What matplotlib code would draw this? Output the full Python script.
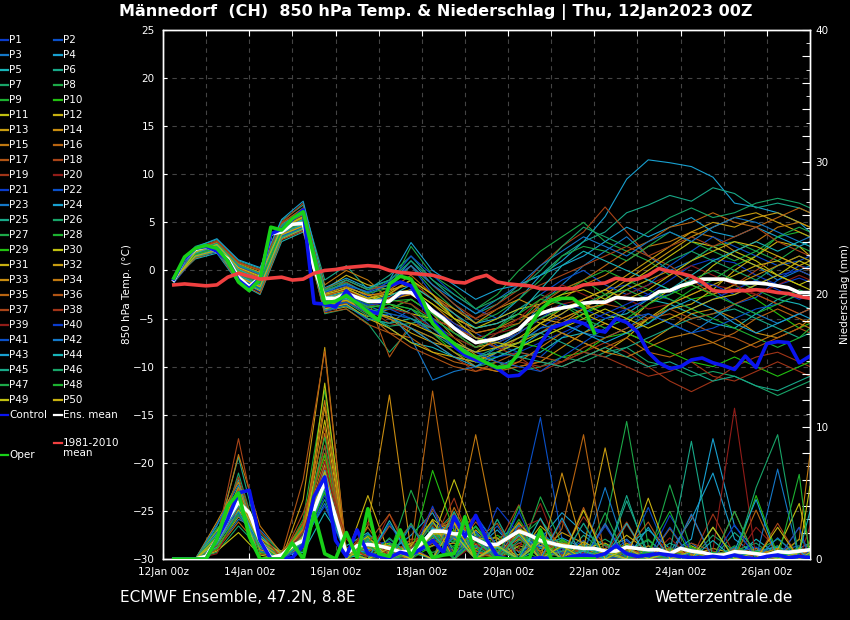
import matplotlib
matplotlib.use('Agg')
import matplotlib.pyplot as plt
from matplotlib.lines import Line2D
from matplotlib.ticker import MultipleLocator, FixedLocator, FuncFormatter

# ---------------- time axes (hours after 12Jan2023 00z) ----------------
hours6 = list(range(6, 361, 6))                 # special lines, 6-hourly
hours12 = list(range(6, 355, 12)) + [360]       # ensemble members, 12-hourly
oper_hours = list(range(6, 241, 6))             # operational run, to +240h

tick_hours = [0, 48, 96, 144, 192, 240, 288, 336]
tick_labels = ['12Jan 00z', '14Jan 00z', '16Jan 00z', '18Jan 00z',
               '20Jan 00z', '22Jan 00z', '24Jan 00z', '26Jan 00z']

# ---------------- 850 hPa temperature (deg C) ----------------
mean_temp = [-1.0, 1.2, 2.2, 2.5, 2.0, 1.2, -0.7, -1.7, -0.7, 3.8, 4.0, 4.8, 4.9, 0.3, -2.9,
             -2.9, -2.4, -2.8, -3.2, -3.2, -3.2, -2.3, -2.3, -3.1, -4.2, -5.0, -6.0, -6.8, -7.5, -7.3,
             -7.1, -6.7, -6.1, -5.0, -4.5, -4.1, -3.9, -3.7, -3.4, -3.3, -3.3, -2.8, -2.9, -3.0, -2.9,
             -2.2, -2.1, -1.6, -1.3, -0.9, -0.9, -0.9, -1.2, -1.3, -1.3, -1.4, -1.6, -1.8, -2.3, -2.3]
control_temp = [-0.9, 1.2, 2.3, 2.5, 2.0, 1.0, -1.0, -1.9, -0.8, 3.8, 4.3, 5.3, 6.3, -3.4, -3.5,
                -3.8, -2.1, -3.5, -4.2, -4.5, -1.6, -1.2, -1.6, -3.5, -5.2, -6.5, -7.9, -8.8, -9.3, -9.6,
                -10.2, -11.0, -10.9, -9.9, -7.6, -6.0, -5.6, -5.2, -5.5, -6.2, -6.4, -5.0, -5.4, -6.4, -8.5,
                -9.6, -10.2, -10.0, -9.3, -9.1, -9.6, -9.9, -10.3, -8.9, -10.1, -7.6, -7.4, -7.5, -9.6, -8.9]
oper_temp = [-0.8, 1.4, 2.3, 2.6, 2.3, 1.0, -1.2, -2.1, -0.9, 4.5, 4.2, 5.4, 6.1, 1.4, -3.4,
             -3.2, -2.6, -3.4, -4.3, -5.2, -1.4, -0.6, -0.9, -2.9, -5.5, -6.7, -7.6, -8.5, -9.0, -9.6,
             -10.1, -10.0, -8.6, -5.8, -4.1, -3.1, -2.9, -2.9, -3.8, -6.5]
clim_temp = [-1.5, -1.4, -1.5, -1.6, -1.5, -0.7, -0.3, -0.6, -0.9, -0.8, -0.7, -1.0, -0.9, -0.3, 0.0,
             0.1, 0.3, 0.4, 0.5, 0.4, 0.0, -0.2, -0.3, -0.4, -0.5, -0.8, -1.2, -1.3, -0.8, -0.5,
             -1.2, -1.4, -1.5, -1.6, -1.9, -1.9, -1.9, -1.9, -1.5, -1.4, -1.3, -0.8, -1.0, -0.9, -0.5,
             0.2, -0.1, -0.3, -0.6, -1.2, -2.1, -2.2, -2.1, -2.1, -2.0, -2.1, -2.3, -2.4, -2.7, -2.9]

T01 = [-1.0, 1.6, 2.3, -0.3, -1.2, 4.0, 5.0, -3.0, -2.2, -3.5, -3.2, -2.0, -4.0, -5.8, -7.0, -8.2, -7.5, -6.0, -4.5, -3.0, -2.0, -1.5, -2.5, -1.0, 0.5, 1.2, 0.8, -0.5, -1.5, -0.8, -1.2]
T02 = [-1.2, 1.9, 2.6, 0.2, -0.8, 4.4, 5.6, -2.0, -1.5, -2.8, -1.0, 0.5, -2.5, -4.5, -6.5, -7.8, -8.5, -9.0, -7.0, -5.5, -6.5, -4.0, -3.0, -2.5, -1.0, -2.0, -3.5, -2.8, -1.0, 0.5, 0.2]
T03 = [-0.8, 1.4, 2.0, -0.8, -1.8, 3.5, 4.6, -4.0, -3.5, -5.0, -5.5, -4.0, -6.0, -8.0, -9.5, -8.0, -6.5, -3.5, -1.5, 0.5, 2.0, 3.5, 1.5, 0.0, 1.0, 2.5, 1.5, 0.5, -1.0, 0.0, 0.5]
T04 = [-1.1, 2.2, 2.9, 0.6, -0.4, 4.8, 6.2, -2.5, -1.0, -2.0, -1.5, 1.0, -1.5, -3.5, -5.5, -5.0, -3.0, -0.5, 1.0, 3.0, 5.6, 9.5, 11.5, 11.2, 10.8, 9.7, 7.0, 6.6, 6.0, 5.0, 4.0]
T05 = [-0.9, 1.2, 1.8, -1.3, -2.5, 3.0, 4.0, -3.5, -3.0, -4.5, -6.0, -7.5, -8.0, -9.0, -9.5, -10.0, -9.0, -8.5, -7.0, -6.5, -5.0, -4.5, -3.0, -3.5, -4.5, -5.5, -6.0, -4.5, -3.0, -3.5, -4.0]
T06 = [-1.3, 2.5, 3.2, 1.0, 0.2, 5.2, 6.8, -1.0, 0.5, -2.0, -0.5, 1.5, -1.0, -3.0, -4.5, -3.5, -1.5, -0.5, 1.5, 3.0, 4.0, 6.0, 6.8, 7.8, 7.2, 8.6, 8.0, 6.5, 7.0, 6.5, 6.0]
T07 = [-1.0, 1.7, 2.1, -0.6, -1.5, 3.8, 4.4, -4.5, -4.0, -5.5, -8.5, -6.0, -7.0, -8.5, -10.0, -9.5, -10.5, -10.0, -9.0, -9.5, -8.5, -8.0, -9.5, -10.0, -11.0, -10.5, -11.0, -12.0, -13.0, -12.0, -11.5]
T08 = [-0.7, 1.5, 2.4, 0.0, -1.0, 4.2, 5.3, -2.5, -2.0, -3.0, -2.0, 2.5, -0.5, -2.0, -4.0, -2.5, 0.0, 2.0, 3.5, 5.0, 3.0, 2.0, 1.0, -0.5, 1.0, 2.5, 3.0, 2.0, 1.0, 2.5, 2.0]
T09 = [-1.0, 1.8, 2.5, -0.2, -1.0, 4.5, 5.5, -3.2, -2.5, -3.8, -3.0, -3.5, -5.5, -7.0, -8.0, -6.5, -5.5, -3.0, -2.0, -1.0, -2.5, -4.0, -5.5, -3.5, -2.0, -1.0, 0.5, 1.5, 3.5, 4.0, 3.5]
T10 = [-1.2, 1.5, 2.2, -0.5, -1.8, 3.6, 4.8, -3.8, -3.0, -4.0, -4.5, -5.0, -6.5, -8.5, -9.5, -9.0, -8.0, -7.0, -6.0, -4.5, -3.5, -2.0, -1.0, -2.0, -3.0, -2.5, -1.5, -3.0, -4.5, -6.0, -5.5]
T11 = [-0.9, 1.6, 2.4, 0.4, -0.6, 4.0, 5.2, -2.8, -1.8, -2.5, -3.5, -4.5, -5.0, -6.0, -7.0, -8.0, -7.5, -5.5, -4.0, -3.5, -4.5, -5.5, -3.5, -2.0, -1.5, 0.5, 2.0, 1.0, -0.5, -1.5, -1.0]
T12 = [-1.1, 2.0, 2.8, 0.8, 0.0, 4.6, 5.8, -2.0, -0.5, -1.5, -2.0, -1.5, -3.0, -5.0, -6.0, -5.5, -4.5, -5.5, -6.5, -7.5, -8.5, -7.0, -5.0, -4.0, -3.5, -2.0, 0.0, 1.5, 3.0, 2.5, 1.5]
T13 = [-1.0, 1.7, 2.5, -0.4, -1.3, 4.1, 4.9, -3.3, -2.8, -4.2, -5.0, -6.5, -7.5, -8.0, -8.5, -7.0, -6.0, -5.0, -5.5, -4.0, -2.5, -1.0, 0.5, 2.0, 3.5, 4.5, 5.5, 6.0, 5.0, 4.0, 3.5]
T14 = [-0.8, 1.3, 2.0, -1.0, -2.0, 3.4, 4.3, -4.2, -3.8, -4.8, -4.0, -3.0, -4.5, -7.0, -8.8, -9.5, -10.0, -9.5, -8.0, -6.5, -5.5, -6.5, -7.5, -6.0, -4.5, -4.0, -5.0, -6.5, -7.0, -6.0, -5.0]
T15 = [-1.2, 2.1, 3.0, 0.5, -0.2, 4.9, 6.5, -1.5, 0.0, -1.0, -3.0, -2.0, -3.5, -5.5, -6.5, -6.0, -5.0, -4.0, -3.0, -1.5, -0.5, 1.0, 2.5, 3.0, 4.0, 3.5, 2.0, 3.0, 4.5, 5.0, 4.5]
T16 = [-1.0, 1.6, 2.2, -0.7, -1.6, 3.9, 4.7, -3.6, -3.2, -4.5, -6.5, -7.0, -8.5, -9.5, -10.0, -10.5, -10.0, -9.5, -10.0, -9.0, -8.0, -7.0, -8.5, -9.0, -8.0, -7.5, -6.5, -5.0, -4.0, -5.0, -5.5]
T17 = [-0.9, 1.8, 2.7, 0.3, -0.5, 4.4, 5.9, -2.7, -2.0, -3.0, -9.0, -5.5, -6.0, -7.5, -9.0, -8.5, -7.0, -6.5, -5.0, -4.0, -3.5, -4.0, -5.0, -4.5, -5.5, -6.5, -7.0, -8.0, -7.0, -6.0, -6.5]
T18 = [-1.1, 2.3, 3.1, 0.9, 0.0, 5.0, 7.0, -2.2, -1.2, -2.5, -2.5, -1.0, -3.0, -4.0, -5.0, -3.5, -2.0, 0.5, 2.5, 4.0, 6.6, 4.0, 1.5, 0.5, -1.0, -2.5, -1.5, 0.0, 1.5, 0.5, 0.0]
T19 = [-1.0, 1.5, 2.1, -0.5, -1.4, 3.7, 4.5, -3.9, -3.4, -4.0, -5.5, -6.0, -7.5, -9.0, -10.5, -10.0, -9.5, -10.0, -9.5, -8.5, -7.5, -8.5, -10.0, -11.5, -12.6, -11.5, -10.0, -9.0, -8.5, -9.5, -10.0]
T20 = [-0.8, 1.9, 2.6, 0.1, -0.9, 4.3, 5.4, -2.6, -2.4, -3.4, -2.8, -2.5, -4.0, -5.5, -7.0, -6.5, -6.0, -4.5, -3.5, -3.0, -2.0, -3.0, -4.0, -3.5, -2.5, -1.5, -2.0, -2.5, -3.5, -4.5, -4.0]
T21 = [-1.3, 1.4, 1.9, -1.1, -2.2, 3.3, 4.2, -4.3, -3.6, -5.2, -4.5, -5.0, -6.0, -7.5, -8.5, -9.0, -8.5, -7.5, -6.5, -5.5, -4.5, -3.5, -2.5, -3.0, -4.0, -3.0, -2.0, -1.0, -2.0, -3.0, -2.5]
T22 = [-1.0, 2.0, 2.7, 0.4, -0.6, 4.5, 5.7, -2.3, -1.6, -2.2, -1.2, 1.5, -0.5, -2.5, -4.0, -5.0, -4.0, -2.5, -1.0, 0.0, -1.5, -2.5, -1.5, 0.5, 2.0, 3.5, 2.5, 1.5, 0.5, 1.0, 1.5]
T23 = [-0.9, 1.7, 2.4, -0.2, -1.1, 4.1, 5.1, -3.1, -2.6, -3.7, -4.5, -7.0, -11.4, -10.5, -10.0, -8.5, -7.5, -6.0, -5.5, -6.5, -7.0, -6.0, -4.5, -5.5, -6.5, -5.0, -3.5, -4.5, -5.5, -4.5, -4.0]
T24 = [-1.2, 2.4, 3.3, 1.1, 0.3, 5.3, 7.2, -1.8, -0.8, -1.8, -1.0, 2.9, 0.0, -1.5, -3.0, -2.0, -1.5, -0.5, 0.5, 1.5, 3.0, 4.5, 3.5, 4.5, 5.5, 4.0, 3.5, 4.5, 3.5, 2.5, 3.0]
T25 = [-1.0, 1.6, 2.3, -0.6, -1.7, 3.6, 4.8, -3.4, -3.0, -4.3, -3.8, -4.5, -6.5, -8.0, -9.0, -8.0, -7.0, -6.5, -7.5, -8.5, -9.0, -8.0, -7.0, -6.0, -5.0, -4.5, -4.0, -5.0, -6.0, -7.0, -6.5]
T26 = [-0.8, 1.5, 2.1, -0.9, -1.9, 3.5, 4.5, -3.7, -3.3, -4.7, -5.8, -5.5, -5.0, -6.5, -7.5, -6.0, -4.0, -2.5, -3.5, -4.5, -3.0, -1.5, -0.5, 1.0, 2.0, 1.0, 0.0, -1.0, 0.5, 1.5, 1.0]
T27 = [-1.1, 2.1, 2.8, 0.5, -0.3, 4.7, 6.0, -2.1, -1.3, -2.4, -1.8, 0.5, -2.0, -4.0, -5.5, -4.5, -3.0, -1.0, 1.5, 2.5, 2.0, 1.0, 2.5, 4.0, 3.0, 2.0, 1.0, 2.0, 3.5, 4.5, 4.0]
T28 = [-1.0, 1.8, 2.5, 0.0, -1.0, 4.2, 5.2, -3.0, -2.5, -3.6, -4.0, -3.0, -4.5, -6.0, -7.5, -7.0, -6.0, -4.0, -2.5, -1.0, 0.0, -1.0, -2.0, -3.0, -4.0, -5.0, -6.0, -7.0, -8.0, -7.0, -6.0]
T29 = [-1.2, 1.6, 2.3, -0.4, -1.4, 4.0, 5.0, -3.2, -2.7, -3.9, -3.5, -4.0, -5.5, -7.5, -9.0, -8.5, -7.5, -8.0, -9.0, -8.5, -7.0, -6.5, -7.5, -8.5, -9.5, -10.0, -9.0, -10.0, -11.0, -10.0, -9.5]
T30 = [-0.9, 1.9, 2.7, 0.2, -0.7, 4.4, 5.5, -2.6, -2.1, -3.1, -2.5, -2.0, -3.5, -5.0, -6.0, -5.0, -4.0, -3.5, -2.5, -2.0, -3.0, -1.5, 0.0, 1.5, 3.0, 2.5, 1.5, 0.5, -0.5, 1.0, 0.5]
T31 = [-1.1, 1.4, 2.0, -1.0, -2.1, 3.3, 4.3, -4.0, -3.5, -5.0, -6.0, -7.5, -8.5, -9.0, -9.5, -8.5, -7.5, -6.5, -5.5, -4.5, -5.5, -6.5, -5.0, -3.5, -2.5, -1.5, -0.5, 0.5, 1.0, 0.0, -0.5]
T32 = [-1.0, 1.7, 2.4, -0.1, -1.1, 4.1, 5.0, -2.9, -2.3, -3.3, -3.0, -2.5, -4.0, -6.5, -8.0, -7.5, -6.5, -5.0, -4.0, -3.0, -2.0, -0.5, 1.0, 2.5, 4.0, 5.0, 4.5, 5.5, 6.0, 5.0, 4.5]
T33 = [-0.8, 2.0, 2.9, 0.7, -0.2, 4.6, 6.0, -2.4, -1.7, -2.6, -2.2, -1.0, -2.5, -4.0, -5.5, -4.0, -3.0, -4.0, -5.0, -4.0, -3.5, -2.0, -1.0, 0.0, -1.5, -2.5, -1.5, -0.5, 0.5, 1.5, 1.0]
T34 = [-1.2, 1.5, 2.2, -0.7, -1.6, 3.8, 4.6, -3.5, -3.1, -4.1, -5.0, -6.0, -7.0, -8.5, -10.0, -10.5, -9.5, -8.0, -6.5, -7.5, -8.5, -9.0, -8.0, -7.0, -6.5, -7.5, -8.5, -7.5, -6.5, -5.5, -6.0]
T35 = [-1.0, 1.8, 2.6, 0.2, -0.8, 4.3, 5.4, -2.7, -1.9, -2.9, -2.0, -0.5, -2.5, -4.5, -6.5, -6.0, -5.5, -3.5, -2.0, -1.0, 0.5, 2.0, 3.0, 4.5, 5.0, 6.0, 5.0, 4.5, 5.5, 6.5, 6.0]
T36 = [-0.9, 1.3, 2.0, -1.2, -2.4, 3.2, 4.1, -4.4, -4.0, -5.6, -6.5, -8.0, -9.0, -10.0, -10.5, -9.5, -8.5, -9.0, -9.5, -8.0, -7.0, -6.0, -5.0, -4.0, -5.0, -4.5, -3.5, -2.5, -3.5, -4.5, -4.0]
T37 = [-1.1, 2.2, 3.0, 0.8, 0.1, 4.9, 6.4, -1.9, -1.0, -2.0, -1.5, 0.5, -1.5, -3.5, -5.0, -4.0, -2.5, -1.5, -0.5, 0.5, 1.5, 2.5, 1.5, 2.5, 3.5, 2.5, 3.5, 4.5, 3.0, 2.0, 1.5]
T38 = [-1.0, 1.6, 2.3, -0.4, -1.3, 4.0, 4.9, -3.3, -2.9, -3.8, -3.0, -3.5, -5.0, -6.0, -7.0, -8.0, -9.0, -10.5, -9.5, -8.5, -9.0, -10.0, -11.0, -10.5, -9.5, -11.0, -11.5, -10.5, -9.5, -10.5, -11.0]
T39 = [-0.8, 1.9, 2.7, 0.3, -0.6, 4.5, 5.7, -2.5, -2.0, -3.2, -4.0, -4.5, -6.0, -7.0, -8.0, -6.5, -5.0, -3.0, -1.5, -2.5, -3.5, -2.5, -1.5, -0.5, 0.5, -0.5, -1.5, -2.5, -1.5, -0.5, -1.0]
T40 = [-1.2, 1.7, 2.4, -0.3, -1.2, 4.1, 5.1, -3.1, -2.6, -3.6, -3.3, -2.0, -4.0, -5.5, -7.0, -7.5, -6.5, -5.0, -3.5, -4.0, -5.0, -4.0, -3.0, -2.0, -1.0, -1.5, -2.5, -1.5, -0.5, 0.0, -0.5]
T41 = [-1.0, 1.5, 2.1, -0.8, -1.9, 3.6, 4.5, -3.8, -3.3, -4.4, -4.0, -5.0, -6.5, -7.5, -8.5, -9.5, -10.0, -10.5, -9.0, -7.5, -6.0, -5.0, -4.5, -5.5, -6.5, -6.0, -5.0, -4.0, -3.5, -2.5, -3.0]
T42 = [-0.9, 2.1, 2.8, 0.5, -0.4, 4.6, 5.9, -2.2, -1.4, -2.3, -1.5, 0.5, -1.5, -3.0, -4.5, -3.0, -1.5, 0.5, 2.0, 3.5, 2.5, 1.5, 3.0, 4.0, 3.0, 4.5, 5.5, 5.0, 4.0, 3.0, 3.5]
T43 = [-1.1, 1.6, 2.2, -0.5, -1.5, 3.9, 4.8, -3.4, -2.9, -4.0, -4.8, -6.0, -7.5, -9.0, -10.0, -9.0, -8.0, -6.5, -5.5, -6.5, -7.5, -6.5, -5.5, -4.0, -3.0, -4.0, -5.5, -6.5, -5.5, -4.5, -5.0]
T44 = [-1.0, 1.8, 2.6, 0.1, -0.9, 4.3, 5.3, -2.8, -2.2, -3.2, -2.7, -1.5, -3.0, -4.5, -6.0, -5.5, -4.5, -2.0, 0.5, 2.0, 1.0, 0.0, -1.0, -2.0, -0.5, 1.0, 2.0, 3.0, 2.0, 3.0, 2.5]
T45 = [-0.8, 1.4, 2.0, -0.9, -2.0, 3.4, 4.4, -4.1, -3.7, -5.0, -5.5, -5.0, -6.0, -7.5, -9.0, -8.5, -9.0, -9.5, -10.0, -9.0, -8.0, -9.0, -10.0, -9.5, -10.5, -11.5, -11.0, -12.0, -12.5, -11.5, -11.0]
T46 = [-1.2, 2.0, 2.8, 0.6, -0.3, 4.7, 6.1, -2.0, -1.0, -2.0, -1.0, 1.0, -1.0, -2.5, -4.0, -3.0, -2.0, 0.0, 2.5, 4.5, 3.5, 2.5, 4.0, 5.5, 6.5, 5.5, 6.0, 7.0, 7.5, 7.0, 6.5]
T47 = [-1.0, 1.7, 2.3, -0.4, -1.3, 4.0, 4.9, -3.3, -2.7, -3.8, -3.5, -4.0, -5.0, -6.5, -8.0, -7.0, -6.0, -5.0, -4.0, -3.5, -2.5, -2.0, -3.0, -2.0, -1.0, 0.0, -1.0, -2.0, -3.0, -2.0, -2.5]
T48 = [-0.9, 1.6, 2.4, -0.2, -1.1, 4.2, 5.1, -3.0, -2.4, -3.4, -3.2, -3.0, -4.5, -6.0, -7.5, -6.0, -4.5, -3.0, -3.5, -5.0, -6.0, -5.0, -3.5, -2.5, -1.5, -2.5, -3.5, -4.5, -3.5, -2.5, -3.0]
T49 = [-1.1, 1.9, 2.7, 0.3, -0.6, 4.5, 5.6, -2.5, -1.9, -2.9, -2.4, -1.0, -2.5, -5.0, -7.0, -7.5, -8.0, -7.0, -6.0, -5.0, -4.0, -5.0, -6.0, -5.0, -4.0, -3.0, -2.5, -1.5, -0.5, -1.5, -2.0]
T50 = [-1.0, 1.5, 2.1, -0.7, -1.7, 3.7, 4.6, -3.6, -3.1, -4.3, -4.8, -5.5, -6.5, -7.5, -8.5, -8.0, -7.0, -5.5, -4.5, -3.0, -2.0, -3.0, -2.0, -0.5, 1.0, 2.0, 3.0, 2.5, 1.5, 0.5, 1.0]

# ---------------- precipitation (mm / 6h) ----------------
mean_prec = [0, 0, 0, 0.2, 1.5, 3.0, 4.3, 3.5, 1.4, 0.1, 0.3, 1.0, 1.4, 3.7, 5.8,
             3.2, 0.4, 1.0, 1.1, 1.0, 0.8, 0.55, 0.55, 1.2, 2.1, 2.1, 1.9, 1.9, 1.5, 1.1,
             1.1, 1.6, 2.1, 1.8, 1.4, 1.2, 1.0, 0.9, 0.8, 0.8, 0.6, 0.6, 0.9, 0.8, 0.7,
             0.7, 0.4, 0.8, 0.6, 0.5, 0.3, 0.3, 0.55, 0.5, 0.4, 0.3, 0.55, 0.5, 0.6, 0.7]
control_prec = [0, 0, 0, 0, 1.5, 3.0, 5.0, 5.2, 1.4, 0, 0, 0.1, 1.0, 4.7, 6.2,
                1.4, 0.2, 2.2, 0.4, 0.2, 0.1, 0.5, 0.3, 0.8, 1.4, 0.5, 3.2, 1.7, 3.3, 1.5,
                0.2, 0, 0, 0, 0.1, 0, 0, 0.2, 0.3, 0.2, 0.4, 1.0, 0.4, 0.2, 0.3,
                0.4, 0.3, 0.2, 0.1, 0.1, 0.2, 0.1, 0.3, 0.1, 0.0, 0.2, 0.3, 0.1, 0.2, 0.1]
oper_prec = [0, 0, 0, 0, 1.5, 4.0, 5.0, 1.7, 0, 0, 0, 1.2, 0, 3.5, 0.4,
             0, 2.0, 0.1, 3.8, 0.4, 0.2, 2.2, 0.2, 1.7, 0.1, 0.3, 0.4, 3.2, 0, 0,
             0.1, 0, 0, 0.1, 2.2, 0, 0, 0, 0, 0]

R01 = [0, 0, 1.2, 3.5, 1.0, 0.2, 1.5, 4.0, 0.3, 0.8, 0.5, 0.2, 1.5, 2.5, 1.0, 0.5, 1.8, 0.8, 0.4, 0.2, 0.0, 0.6, 0.3, 0.0, 0.5, 0.2, 0.0, 0.4, 0.8, 0.2, 0.3]
R02 = [0, 0, 2.0, 4.5, 0.8, 0.0, 0.8, 5.5, 0.5, 1.2, 0.3, 0.6, 2.8, 1.5, 2.0, 0.8, 3.5, 10.7, 1.5, 0.5, 0.2, 0.0, 0.8, 0.2, 0.0, 0.3, 0.6, 0.0, 0.2, 0.5, 0.4]
R03 = [0, 0, 0.8, 3.0, 2.2, 0.5, 1.0, 6.5, 0.2, 0.5, 1.5, 0.3, 1.0, 3.0, 1.8, 0.2, 1.2, 2.0, 0.5, 0.0, 0.8, 1.5, 0.0, 0.6, 1.2, 0.0, 0.3, 0.0, 0.6, 1.0, 0.2]
R04 = [0, 0, 1.5, 5.0, 1.5, 0.0, 2.0, 7.0, 0.0, 1.0, 0.5, 1.8, 3.5, 0.5, 0.8, 2.2, 0.5, 1.5, 3.5, 2.0, 1.0, 0.0, 0.2, 0.5, 3.0, 6.5, 1.5, 0.3, 0.0, 0.8, 1.2]
R05 = [0, 0, 2.5, 6.0, 0.5, 0.3, 0.5, 3.5, 1.0, 2.0, 0.0, 0.5, 1.2, 2.0, 3.2, 1.0, 0.0, 0.8, 1.2, 0.4, 0.0, 1.0, 2.2, 0.8, 0.0, 0.4, 0.0, 1.5, 0.3, 0.0, 0.6]
R06 = [0, 0, 1.8, 7.7, 1.2, 0.0, 2.5, 8.5, 0.6, 0.2, 1.0, 0.0, 2.0, 1.2, 0.5, 1.5, 2.5, 0.3, 0.0, 1.8, 0.5, 0.2, 0.0, 1.2, 0.4, 0.0, 2.0, 0.5, 1.0, 0.0, 0.5]
R07 = [0, 0, 0.5, 2.5, 0.8, 0.2, 1.2, 4.5, 0.3, 1.5, 0.8, 0.2, 1.8, 3.5, 0.8, 0.0, 2.0, 1.0, 0.0, 0.6, 1.5, 0.5, 0.0, 0.3, 0.0, 1.8, 0.6, 0.0, 0.2, 0.4, 0.0]
R08 = [0, 0, 1.0, 3.8, 2.0, 0.5, 0.6, 6.0, 0.0, 0.6, 2.5, 1.0, 0.5, 1.0, 2.5, 0.6, 1.5, 3.0, 0.8, 0.2, 2.5, 10.4, 1.0, 0.0, 0.8, 0.2, 0.0, 0.6, 1.5, 0.3, 0.0]
R09 = [0, 0, 2.2, 4.0, 0.6, 0.0, 3.0, 12.8, 0.8, 0.4, 0.0, 0.8, 2.5, 0.8, 1.2, 0.4, 3.0, 0.5, 0.2, 1.0, 0.0, 0.6, 1.5, 0.0, 0.2, 0.0, 0.8, 0.3, 0.0, 1.5, 0.8]
R10 = [0, 0, 1.3, 5.5, 1.8, 0.3, 1.8, 5.0, 0.2, 1.8, 0.6, 0.0, 1.0, 2.2, 0.6, 1.8, 0.8, 0.0, 1.5, 0.5, 0.3, 0.0, 0.5, 0.8, 0.0, 0.5, 0.2, 0.0, 0.9, 0.2, 0.4]
R11 = [0, 0, 0.6, 2.0, 0.3, 0.0, 1.0, 13.3, 0.4, 0.8, 1.2, 0.5, 3.0, 1.8, 0.3, 0.2, 2.2, 1.2, 0.0, 0.8, 1.2, 0.3, 0.0, 0.5, 1.0, 0.2, 0.0, 0.8, 0.0, 0.6, 0.2]
R12 = [0, 0, 1.6, 4.8, 1.0, 0.6, 2.2, 7.5, 0.0, 1.4, 0.3, 1.2, 1.8, 0.4, 2.2, 0.8, 0.3, 2.5, 1.0, 0.0, 0.4, 1.8, 0.6, 0.0, 0.3, 0.8, 0.4, 0.0, 0.5, 0.0, 0.3]
R13 = [0, 0, 0.9, 3.2, 1.6, 0.0, 4.5, 16.0, 0.5, 0.3, 0.8, 0.4, 2.2, 2.8, 1.5, 0.0, 1.0, 0.6, 2.0, 1.2, 0.0, 0.5, 0.2, 0.0, 0.6, 0.0, 0.3, 0.0, 0.4, 0.8, 0.5]
R14 = [0, 0, 2.8, 5.8, 0.4, 0.2, 1.4, 6.8, 0.3, 2.5, 12.4, 0.6, 1.0, 1.2, 0.8, 1.2, 2.0, 0.2, 0.6, 0.4, 0.8, 0.0, 1.0, 0.4, 0.0, 0.3, 0.6, 0.2, 0.0, 0.5, 0.0]
R15 = [0, 0, 1.4, 7.9, 2.5, 0.4, 0.8, 9.5, 0.2, 1.0, 0.4, 0.0, 3.8, 1.5, 0.4, 0.5, 1.5, 1.0, 0.3, 0.6, 0.2, 1.2, 0.4, 0.8, 0.3, 0.0, 0.5, 0.8, 0.2, 1.5, 7.9]
R16 = [0, 0, 0.7, 2.8, 0.9, 0.0, 2.8, 8.0, 0.7, 0.6, 1.0, 0.8, 12.7, 2.0, 1.0, 0.3, 2.8, 0.5, 0.8, 0.0, 0.6, 0.4, 0.0, 0.6, 0.8, 0.4, 0.0, 0.3, 0.6, 0.0, 0.4]
R17 = [0, 0, 2.0, 5.2, 1.4, 0.3, 6.0, 15.7, 0.4, 1.6, 0.2, 1.5, 1.5, 0.6, 2.8, 1.0, 0.6, 1.8, 0.2, 0.8, 0.4, 0.0, 0.7, 0.2, 0.5, 0.2, 0.8, 0.0, 0.3, 0.2, 0.6]
R18 = [0, 0, 1.5, 9.1, 1.2, 0.0, 3.5, 7.8, 0.9, 0.2, 0.6, 0.2, 2.0, 3.2, 0.6, 0.2, 1.2, 0.4, 1.4, 0.2, 0.0, 0.8, 0.3, 0.0, 1.2, 0.6, 0.2, 0.5, 0.0, 0.3, 0.0]
R19 = [0, 0, 1.1, 4.2, 0.7, 0.5, 1.6, 5.8, 0.3, 1.2, 0.0, 0.3, 1.2, 4.6, 0.0, 0.6, 2.4, 0.0, 0.5, 3.2, 1.0, 0.0, 0.0, 0.9, 0.0, 3.4, 0.3, 0.0, 0.4, 0.7, 0.0]
R20 = [0, 0, 0.4, 3.6, 1.5, 0.2, 1.2, 6.2, 0.5, 0.0, 3.4, 0.6, 2.6, 0.0, 1.1, 0.0, 0.8, 4.2, 0.0, 0.5, 0.0, 2.6, 0.0, 0.2, 0.3, 0.0, 0.0, 2.4, 0.7, 0.0, 0.5]
R21 = [0, 0, 1.9, 4.4, 0.8, 0.0, 0.9, 4.8, 0.2, 1.1, 1.3, 0.0, 1.4, 2.4, 0.0, 3.9, 1.9, 0.0, 0.9, 0.0, 0.2, 1.4, 0.0, 3.3, 0.6, 0.0, 0.7, 0.0, 0.5, 0.0, 0.8]
R22 = [0, 0, 1.2, 3.3, 1.3, 0.4, 2.0, 6.8, 0.8, 0.5, 0.0, 0.9, 0.0, 1.7, 0.9, 2.5, 0.0, 2.2, 0.4, 1.4, 0.0, 0.3, 3.9, 0.0, 0.8, 0.0, 0.5, 0.9, 0.0, 0.6, 0.3]
R23 = [0, 0, 2.6, 5.6, 0.6, 0.1, 1.3, 4.2, 0.4, 1.9, 0.7, 0.0, 2.4, 0.0, 2.1, 0.0, 2.6, 1.4, 0.0, 0.3, 5.4, 0.4, 0.2, 0.0, 0.4, 0.0, 0.9, 0.0, 6.8, 0.0, 0.6]
R24 = [0, 0, 0.9, 4.6, 1.8, 0.3, 1.7, 7.2, 0.2, 0.7, 1.1, 0.5, 2.1, 2.6, 1.6, 0.4, 1.7, 0.9, 1.6, 0.8, 0.4, 1.0, 0.6, 0.4, 1.5, 9.1, 2.5, 0.6, 0.9, 0.3, 0.2]
R25 = [0, 0, 1.7, 3.9, 1.1, 0.2, 1.1, 5.3, 0.6, 1.3, 0.5, 0.7, 1.7, 1.9, 0.0, 1.3, 2.2, 0.0, 0.6, 1.1, 0.0, 4.4, 0.4, 0.6, 0.2, 0.0, 0.4, 0.3, 0.0, 0.5, 0.9]
R26 = [0, 0, 1.0, 6.5, 0.9, 0.4, 2.4, 6.4, 0.3, 1.6, 0.0, 0.3, 2.7, 1.4, 1.0, 0.0, 1.4, 1.6, 1.3, 0.0, 0.5, 0.6, 1.4, 0.2, 0.0, 0.4, 0.6, 1.2, 0.0, 0.2, 0.7]
R27 = [0, 0, 2.3, 4.1, 1.7, 0.0, 1.9, 9.2, 0.7, 0.0, 0.4, 5.2, 1.3, 0.0, 1.9, 0.6, 0.0, 4.7, 1.1, 0.0, 1.1, 0.2, 0.0, 5.6, 0.7, 0.0, 1.0, 0.2, 0.0, 0.9, 0.4]
R28 = [0, 0, 1.4, 5.1, 0.5, 0.3, 1.0, 5.1, 0.4, 1.4, 0.8, 0.0, 1.9, 1.3, 2.4, 0.8, 0.0, 1.3, 0.8, 0.0, 0.3, 0.7, 0.0, 0.8, 0.4, 0.0, 0.3, 0.5, 0.2, 0.0, 0.5]
R29 = [0, 0, 0.8, 3.4, 1.4, 0.2, 2.6, 7.9, 0.5, 0.0, 1.2, 0.4, 6.7, 2.1, 0.0, 1.2, 1.6, 0.0, 1.4, 0.6, 0.0, 1.1, 0.3, 0.0, 0.9, 0.2, 0.0, 4.8, 0.3, 0.0, 0.2]
R30 = [0, 0, 2.1, 4.7, 1.0, 0.1, 1.5, 10.5, 0.6, 1.7, 0.0, 0.8, 1.5, 6.0, 1.7, 0.0, 2.3, 1.5, 0.0, 1.3, 0.4, 0.0, 0.7, 0.3, 0.0, 0.5, 0.2, 0.0, 0.7, 4.2, 0.6]
R31 = [0, 0, 1.3, 3.7, 1.6, 0.4, 2.1, 6.6, 0.2, 4.8, 0.3, 1.0, 2.9, 0.0, 1.5, 1.6, 0.0, 1.7, 0.9, 0.0, 0.6, 0.9, 0.0, 0.6, 0.5, 0.0, 0.7, 0.4, 0.0, 0.7, 0.3]
R32 = [0, 0, 1.8, 5.4, 0.7, 0.2, 1.4, 7.1, 0.4, 1.1, 1.0, 0.5, 1.8, 2.7, 1.1, 0.9, 2.7, 1.0, 1.2, 0.8, 8.4, 0.6, 0.3, 0.7, 0.3, 0.4, 0.5, 0.6, 0.4, 0.5, 0.7]
R33 = [0, 0, 1.1, 4.3, 1.3, 0.3, 1.8, 11.5, 0.3, 0.9, 0.0, 0.6, 2.0, 1.6, 0.0, 1.0, 1.8, 0.0, 6.5, 0.6, 0.0, 0.8, 0.6, 0.0, 0.7, 0.2, 0.0, 0.3, 0.8, 0.0, 0.5]
R34 = [0, 0, 1.6, 4.9, 1.0, 0.2, 2.3, 12.0, 0.5, 1.3, 0.6, 0.0, 2.2, 1.7, 9.4, 1.1, 0.0, 1.3, 0.8, 0.0, 0.6, 0.7, 0.0, 0.6, 0.4, 0.0, 0.4, 0.5, 0.0, 0.3, 0.6]
R35 = [0, 0, 1.4, 4.0, 1.2, 0.0, 1.3, 6.0, 0.0, 2.4, 0.0, 0.7, 0.0, 3.9, 0.6, 0.0, 1.9, 0.0, 2.3, 9.4, 0.0, 0.9, 0.0, 2.3, 0.0, 0.4, 0.0, 3.7, 0.0, 0.6, 0.0]
R36 = [0, 0, 1.2, 5.3, 0.0, 0.4, 2.7, 10.0, 0.0, 1.2, 3.4, 0.0, 2.1, 0.0, 1.4, 2.7, 0.0, 1.4, 0.0, 3.9, 0.0, 0.7, 2.8, 0.0, 0.5, 0.0, 3.6, 0.0, 0.3, 0.0, 1.3]
R37 = [0, 0, 1.7, 6.2, 0.9, 0.0, 1.6, 8.6, 0.0, 0.0, 2.5, 0.8, 0.0, 3.5, 0.0, 1.0, 4.1, 0.0, 1.1, 0.0, 2.6, 0.0, 0.4, 0.0, 3.3, 0.0, 0.4, 0.0, 2.7, 0.0, 0.4]
R38 = [0, 0, 1.0, 3.9, 2.1, 0.0, 2.1, 6.9, 1.5, 0.0, 0.7, 2.6, 0.0, 1.8, 3.3, 0.0, 1.7, 0.0, 2.9, 0.0, 0.4, 2.8, 0.0, 0.4, 0.0, 2.4, 0.0, 0.3, 0.0, 2.4, 0.0]
R39 = [0, 0, 1.5, 4.6, 0.0, 0.1, 1.9, 7.4, 0.0, 2.8, 0.0, 0.7, 3.9, 0.0, 1.2, 0.0, 2.3, 3.0, 0.0, 0.6, 0.0, 0.6, 0.0, 1.6, 0.0, 0.7, 11.4, 0.0, 0.4, 0.0, 2.5]
R40 = [0, 0, 2.0, 3.5, 1.2, 0.0, 1.2, 5.6, 0.0, 1.3, 0.0, 0.0, 4.0, 0.0, 1.7, 0.0, 3.6, 0.0, 0.8, 0.0, 2.5, 0.0, 0.6, 0.0, 0.5, 0.0, 2.6, 0.0, 0.4, 0.0, 0.6]
R41 = [0, 0, 1.3, 4.2, 0.0, 0.2, 1.5, 6.1, 0.5, 0.0, 2.7, 0.0, 1.8, 0.0, 3.3, 1.0, 0.0, 1.2, 0.0, 2.7, 0.0, 0.8, 0.0, 2.4, 0.0, 0.5, 0.0, 0.6, 0.0, 2.4, 0.0]
R42 = [0, 0, 1.6, 4.5, 1.3, 0.0, 1.7, 6.5, 0.0, 1.2, 0.0, 2.5, 0.0, 1.7, 0.0, 3.0, 0.0, 1.3, 0.9, 0.0, 2.7, 0.0, 0.6, 0.0, 3.4, 0.0, 0.5, 0.0, 1.6, 0.0, 0.4]
R43 = [0, 0, 1.2, 4.0, 1.1, 0.0, 1.4, 5.9, 0.0, 1.1, 0.0, 0.7, 1.9, 0.0, 1.4, 0.0, 1.8, 0.0, 3.1, 0.0, 0.5, 0.0, 2.4, 0.0, 0.5, 0.0, 0.6, 4.5, 0.0, 0.6, 0.0]
R44 = [0, 0, 1.9, 4.8, 0.0, 0.4, 1.6, 6.7, 0.3, 0.0, 2.9, 0.0, 2.3, 2.0, 0.0, 0.9, 0.0, 3.1, 0.0, 0.6, 0.0, 2.7, 0.0, 0.4, 0.0, 1.4, 0.0, 0.6, 0.0, 0.5, 3.6]
R45 = [0, 0, 1.1, 3.6, 0.9, 0.0, 1.3, 5.4, 0.0, 1.4, 0.0, 0.5, 0.0, 3.6, 0.0, 1.1, 0.0, 1.4, 0.0, 0.7, 0.0, 4.8, 0.0, 0.5, 8.9, 0.0, 0.4, 0.0, 0.6, 0.0, 0.5]
R46 = [0, 0, 1.5, 4.4, 1.2, 0.0, 1.8, 6.3, 0.0, 1.0, 0.0, 2.7, 0.0, 1.9, 0.0, 3.0, 0.0, 1.3, 0.0, 2.7, 0.0, 0.6, 0.0, 0.5, 0.0, 2.4, 0.0, 5.4, 9.4, 0.0, 0.4]
R47 = [0, 0, 1.4, 4.1, 0.0, 0.3, 1.5, 5.7, 0.5, 0.0, 1.6, 0.0, 1.8, 0.0, 2.5, 0.0, 1.9, 0.0, 0.9, 0.0, 3.5, 0.0, 0.5, 0.0, 0.6, 0.0, 3.6, 0.0, 0.5, 0.0, 0.4]
R48 = [0, 0, 1.8, 4.7, 1.0, 0.0, 1.6, 6.4, 0.0, 1.1, 0.0, 0.5, 2.2, 0.0, 1.4, 0.0, 4.0, 0.0, 1.0, 0.0, 0.7, 0.0, 0.6, 3.6, 0.0, 0.5, 0.0, 0.6, 0.0, 6.4, 0.0]
R49 = [0, 0, 1.3, 4.3, 0.0, 0.3, 1.4, 6.0, 0.5, 0.0, 0.8, 0.0, 1.9, 1.9, 0.0, 1.0, 0.0, 1.3, 0.0, 3.7, 0.0, 0.8, 0.0, 0.5, 0.0, 2.4, 0.0, 0.5, 0.0, 0.5, 5.5]
R50 = [0, 0, 1.6, 4.6, 1.2, 0.0, 1.7, 6.6, 0.0, 1.2, 0.0, 0.7, 0.0, 2.7, 0.0, 1.1, 2.0, 0.0, 1.0, 0.0, 0.6, 0.0, 4.6, 0.0, 0.6, 0.0, 0.4, 0.0, 2.4, 0.0, 0.5]

member_temps = [T01, T02, T03, T04, T05, T06, T07, T08, T09, T10, T11, T12, T13, T14, T15, T16, T17,
                T18, T19, T20, T21, T22, T23, T24, T25, T26, T27, T28, T29, T30, T31, T32, T33, T34,
                T35, T36, T37, T38, T39, T40, T41, T42, T43, T44, T45, T46, T47, T48, T49, T50]
member_precs = [R01, R02, R03, R04, R05, R06, R07, R08, R09, R10, R11, R12, R13, R14, R15, R16, R17,
                R18, R19, R20, R21, R22, R23, R24, R25, R26, R27, R28, R29, R30, R31, R32, R33, R34,
                R35, R36, R37, R38, R39, R40, R41, R42, R43, R44, R45, R46, R47, R48, R49, R50]
member_names = ['P%d' % (i + 1) for i in range(50)]

# ---------------- styling ----------------
palette = ['#0a3ccc', '#0a50c8', '#1478c8', '#18a0d0', '#18b4b8', '#18a888', '#18a468',
           '#1ca848', '#1cb030', '#22c010', '#c0c010', '#c8b010', '#c89c10', '#c88c10',
           '#c07810', '#b86410', '#b05414', '#a84418', '#a03418', '#901c18']
member_colors = [palette[int((i * 20 / 19.2) % 20 + 1e-6)] for i in range(50)]
CTRL_C, MEAN_C, OPER_C, CLIM_C = '#0a14f0', '#ffffff', '#18d018', '#f04040'

W, H = 850, 620
fig = plt.figure(figsize=(W / 100, H / 100), dpi=100, facecolor='black')
ax = fig.add_axes([163 / W, 1 - 559 / H, (810 - 163) / W, (559 - 30) / H])
ax.set_facecolor('black')
ax2 = ax.twinx()

# temperature
for vals, c in zip(member_temps, member_colors):
    ax.plot(hours12, vals, color=c, lw=0.8, zorder=2)
ax.plot(hours6, mean_temp, color=MEAN_C, lw=2.6, zorder=4)
ax.plot(hours6, control_temp, color=CTRL_C, lw=2.6, zorder=5)
ax.plot(oper_hours, oper_temp, color=OPER_C, lw=2.6, zorder=6)
ax.plot(hours6, clim_temp, color=CLIM_C, lw=2.6, zorder=7)

# precipitation
for vals, c in zip(member_precs, member_colors):
    ax2.plot(hours12, vals, color=c, lw=0.8, zorder=2)
ax2.plot(hours6, mean_prec, color=MEAN_C, lw=2.6, zorder=4)
ax2.plot(hours6, control_prec, color=CTRL_C, lw=2.6, zorder=5)
ax2.plot(oper_hours, oper_prec, color=OPER_C, lw=2.6, zorder=6)

ax.set_xlim(0, 360)
ax.set_ylim(-30, 25)
ax2.set_ylim(0, 40)

ax.xaxis.set_major_locator(FixedLocator(tick_hours))
ax.set_xticklabels(tick_labels)
ax.xaxis.set_minor_locator(MultipleLocator(24))
ax.yaxis.set_major_locator(MultipleLocator(5))
ax.grid(which='both', axis='x', color='#444444', ls=(0, (4, 4)), lw=0.8)
ax.grid(which='major', axis='y', color='#444444', ls=(0, (4, 4)), lw=0.8)
ax.set_axisbelow(True)

ax.tick_params(axis='x', which='both', colors='white', direction='in', top=True,
               length=4, labelsize=7.5, pad=6)
ax.tick_params(axis='y', which='both', colors='white', direction='in', length=3,
               labelsize=7.5, pad=6)
ax2.yaxis.set_major_locator(MultipleLocator(2))
ax2.yaxis.set_minor_locator(MultipleLocator(1))
ax2.yaxis.set_major_formatter(FuncFormatter(lambda v, p: '%d' % v if v % 10 == 0 else ''))
ax2.tick_params(axis='y', which='major', colors='white', direction='in', length=6,
                labelsize=7.5, pad=4)
ax2.tick_params(axis='y', which='minor', colors='white', direction='in', length=3)

for a in (ax, ax2):
    for s in a.spines.values():
        s.set_color('white')
        s.set_linewidth(1.0)

ax.set_ylabel('850 hPa Temp. (°C)', color='white', fontsize=7.5)
ax.yaxis.set_label_coords(-0.048, 0.5)
ax2.set_ylabel('Niederschlag (mm)', color='white', fontsize=7.5)
ax2.yaxis.set_label_coords(1.046, 0.5)
ax.set_xlabel('Date (UTC)', color='white', fontsize=7.5)
ax.xaxis.set_label_coords(0.5, -0.057)

fig.text(436 / W, 1 - 12 / H, 'Männedorf  (CH)  850 hPa Temp. & Niederschlag | Thu, 12Jan2023 00Z',
         color='white', fontsize=11.5, fontweight='bold', ha='center', va='center')
fig.text(120 / W, 1 - 598 / H, 'ECMWF Ensemble, 47.2N, 8.8E', color='white', fontsize=11,
         ha='left', va='center')
fig.text(793 / W, 1 - 598 / H, 'Wetterzentrale.de', color='white', fontsize=11,
         ha='right', va='center')

# ---------------- legend (two columns at the left) ----------------
def legend_entry(xh, y, color, label, ytext=None, lw=1.6):
    yf = 1 - y / H
    fig.add_artist(Line2D([xh / W, (xh + 8) / W], [yf, yf], color=color, lw=lw,
                          transform=fig.transFigure))
    yt = y if ytext is None else ytext
    fig.text((xh + 9) / W, 1 - yt / H, label, color='white', fontsize=7.5,
             ha='left', va='center', linespacing=0.95)

for i, (name, c) in enumerate(zip(member_names, member_colors)):
    row, col = divmod(i, 2)
    legend_entry(0 if col == 0 else 54, 40 + 15 * row, c, name)
legend_entry(0, 415, CTRL_C, 'Control')
legend_entry(54, 415, MEAN_C, 'Ens. mean')
legend_entry(54, 443, CLIM_C, '1981-2010\nmean', ytext=448)
legend_entry(0, 455, OPER_C, 'Oper')

fig.savefig('out.png', dpi=100, facecolor='black')
